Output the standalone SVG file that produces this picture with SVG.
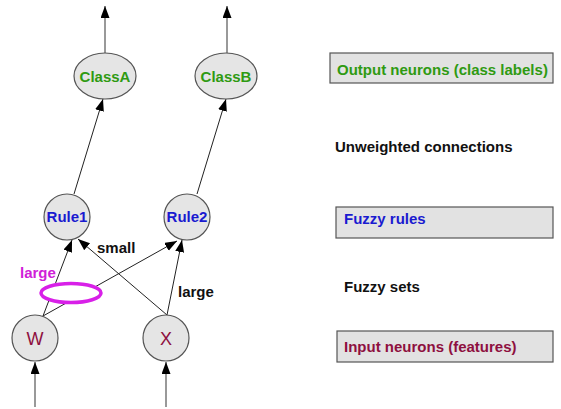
<svg xmlns="http://www.w3.org/2000/svg" width="561" height="409" viewBox="0 0 561 409">
<defs>
<marker id="ah" markerUnits="userSpaceOnUse" markerWidth="12" markerHeight="10" refX="12" refY="4.5" orient="auto">
<path d="M0,0 L12,4.5 L0,9 z" fill="#000"/>
</marker>
<style>
.node{fill:#e5e5e5;stroke:#555;stroke-width:1.2}
.box{fill:#e2e2e2;stroke:#555;stroke-width:1.2}
.t{font-family:"Liberation Sans",Arial,sans-serif;font-weight:bold;font-size:15px}
.c{text-anchor:middle}
.g{fill:#2f9a12}
.b{fill:#1a1ad0}
.r{fill:#8e1040}
.k{fill:#111}
.m{fill:#d020d8}
.in{font-family:"Liberation Sans",Arial,sans-serif;font-size:18px;fill:#8e1040;text-anchor:middle}
.e{stroke:#222;stroke-width:1;fill:none;marker-end:url(#ah)}
.eg{stroke:#777;stroke-width:1.5;fill:none;marker-end:url(#ah)}
</style>
</defs>
<rect width="561" height="409" fill="#fff"/>
<g id="connectors">
<line class="eg" x1="105" y1="53" x2="105" y2="6"/>
<line class="eg" x1="227" y1="53" x2="227" y2="6"/>
<line class="e" x1="74" y1="194" x2="103" y2="99"/>
<line class="e" x1="197" y1="194" x2="226" y2="99"/>
<line class="e" x1="43" y1="316" x2="72" y2="240"/>
<line class="e" x1="43" y1="316" x2="177" y2="241"/>
<line class="e" x1="167" y1="315" x2="78" y2="239"/>
<line class="e" x1="167" y1="315" x2="182" y2="240"/>
<line class="eg" x1="35" y1="407" x2="35" y2="362"/>
<line class="eg" x1="166" y1="407" x2="166" y2="362"/>
</g>
<g id="fuzzyset">
<ellipse cx="71" cy="293" rx="30" ry="9.5" fill="#fff" stroke="#d820e8" stroke-width="3.5"/>
<text class="t m" x="20" y="278">large</text>
</g>
<g id="labels">
<text class="t k" x="97" y="253">small</text>
<text class="t k" x="178" y="297">large</text>
</g>
<g id="ClassA"><ellipse class="node" cx="105" cy="76" rx="31" ry="23"/><text class="t c g" x="105" y="82">ClassA</text></g>
<g id="ClassB"><ellipse class="node" cx="226" cy="76" rx="31" ry="23"/><text class="t c g" x="226" y="82">ClassB</text></g>
<g id="Rule1"><circle class="node" cx="67" cy="217" r="23"/><text class="t c b" x="67" y="222">Rule1</text></g>
<g id="Rule2"><circle class="node" cx="187" cy="217" r="23"/><text class="t c b" x="187" y="222">Rule2</text></g>
<g id="W"><circle class="node" cx="35" cy="338" r="23"/><text class="in" x="35" y="345">W</text></g>
<g id="X"><circle class="node" cx="166" cy="338" r="23"/><text class="in" x="166" y="345">X</text></g>
<g id="legend-output"><rect class="box" x="330" y="53" width="223" height="30"/><text class="t g" x="337" y="75">Output neurons (class labels)</text></g>
<g id="legend-unweighted"><text class="t k" x="335" y="152">Unweighted connections</text></g>
<g id="legend-rules"><rect class="box" x="336" y="207" width="217" height="31"/><text class="t b" x="344" y="224">Fuzzy rules</text></g>
<g id="legend-sets"><text class="t k" x="344" y="292">Fuzzy sets</text></g>
<g id="legend-input"><rect class="box" x="337" y="331" width="216" height="31"/><text class="t r" x="344" y="352">Input neurons (features)</text></g>
</svg>
